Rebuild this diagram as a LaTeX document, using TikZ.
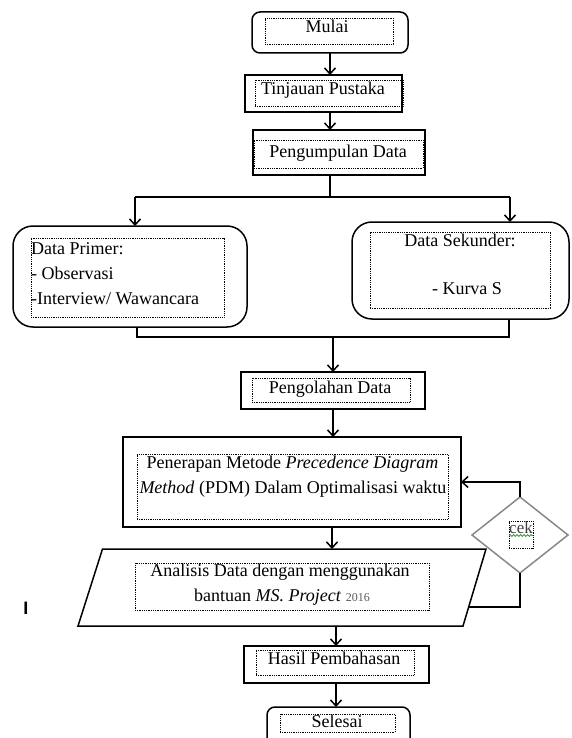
\documentclass[tikz,border=0pt]{standalone}
\usepackage{fontspec}
\setmainfont{Liberation Serif}
\newfontfamily\barfont{Liberation Sans}
\usetikzlibrary{arrows.meta,shapes.geometric,decorations.pathmorphing}
\definecolor{diagray}{HTML}{888888}
\definecolor{spellgreen}{HTML}{3A9A3A}
\begin{document}
\begin{tikzpicture}[x=1pt,y=-1pt,
  box/.style={draw, line width=1.5pt, inner sep=0pt, outer sep=0pt},
  rbox/.style={box, rounded corners=#1},
  dotbox/.style={draw, line width=0.9pt, dash pattern=on 0.9pt off 0.9pt, inner sep=0pt, outer sep=0pt},
  txt/.style={font=\fontsize{18}{25}\selectfont, inner sep=0pt, anchor=base},
  ltxt/.style={txt, anchor=base west},
  arr/.style={-{Straight Barb[length=6pt,width=11pt]}, line width=1.5pt},
  link/.style={line width=1.5pt}
]
\useasboundingbox (0,0) rectangle (571,738);
\clip (0,0) rectangle (571,738);

% Mulai
\node[rbox=8pt, minimum width=156pt, minimum height=41pt] (mulai) at (330,32.5) {};
\node[dotbox, minimum width=128pt, minimum height=26pt] (mulaiD) at (329,31) {};
\node[txt] (mulaiT) at (327,33) {Mulai};

% Tinjauan Pustaka
\node[box, minimum width=157pt, minimum height=37pt] (tin) at (323.5,93.5) {};
\node[dotbox, minimum width=148pt, minimum height=26pt] (tinD) at (329,93) {};
\node[txt] (tinT) at (323,95) {Tinjauan Pustaka};

% Pengumpulan Data
\node[box, minimum width=172pt, minimum height=45pt] (pk) at (339,152.5) {};
\node[dotbox, minimum width=169pt, minimum height=28pt] (pkD) at (338.5,154) {};
\node[txt] (pkT) at (338,158) {Pengumpulan Data};

% Data Primer
\node[rbox=20pt, minimum width=234pt, minimum height=101pt] (dp) at (130,276.5) {};
\node[dotbox, minimum width=193pt, minimum height=79pt] (dpD) at (127.5,277.5) {};
\node[ltxt] (dpT1) at (31,254) {Data Primer:};
\node[ltxt] (dpT2) at (31,279) {- Observasi};
\node[ltxt] (dpT3) at (31,304) {-Interview/ Wawancara};

% Data Sekunder
\node[rbox=20pt, minimum width=217pt, minimum height=97pt] (ds) at (460.5,270.5) {};
\node[dotbox, minimum width=180pt, minimum height=76pt] (dsD) at (460,270) {};
\node[txt] (dsT1) at (460,246) {Data Sekunder:};
\node[txt] (dsT2) at (467,294) {- Kurva S};

% Pengolahan Data
\node[box, minimum width=184pt, minimum height=37pt] (olah) at (333,390.5) {};
\node[dotbox, minimum width=158pt, minimum height=24pt] (olahD) at (331,390) {};
\node[txt] (olahT) at (330,393) {Pengolahan Data};

% Penerapan
\node[box, minimum width=338pt, minimum height=90pt] (pen) at (292,482) {};
\node[dotbox, minimum width=311pt, minimum height=65pt] (penD) at (292.5,486.5) {};
\node[txt] (penT1) at (292.5,468) {Penerapan Metode \textit{Precedence Diagram}};
\node[txt] (penT2) at (293,493) {\textit{Method} (PDM) Dalam Optimalisasi waktu};

% Analisis (parallelogram)
\coordinate (pTL) at (102.5,549);
\coordinate (pTR) at (486,549);
\coordinate (pBR) at (463,626);
\coordinate (pBL) at (78,626);
\coordinate (pIn) at (332,549);
\coordinate (pOut) at (336,626);
\coordinate (pR) at (468.7,607);
\draw[link] (pTL) -- (pTR) -- (pBR) -- (pBL) -- cycle;
\node[dotbox, minimum width=294pt, minimum height=47pt] (anD) at (282,586.5) {};
\node[txt] (anT1) at (280,576) {Analisis Data dengan menggunakan};
\node[txt] (anT2) at (282,601) {bantuan \textit{MS. Project} {\fontsize{12}{14}\selectfont\color{black!65}2016}};

% Hasil Pembahasan
\node[box, minimum width=185pt, minimum height=37pt] (hasil) at (336.5,664.5) {};
\node[dotbox, minimum width=158pt, minimum height=25pt] (hasilD) at (335,662.5) {};
\node[txt] (hasilT) at (334,664) {Hasil Pembahasan};

% Selesai
\node[rbox=8pt, minimum width=143pt, minimum height=50pt] (sel) at (338.5,732) {};
\node[dotbox, minimum width=115pt, minimum height=18pt] (selD) at (337.5,723) {};
\node[txt] (selT) at (337,727) {Selesai};

% cek diamond
\node[diamond, draw=diagray, line width=1.5pt, inner sep=0pt, outer sep=0pt, minimum width=96pt, minimum height=76pt] (dia) at (520,535) {};
\node[dotbox, minimum width=24pt, minimum height=27pt] (diaD) at (521,534.5) {};
\node[txt, font=\fontsize{17}{20}\selectfont, text=black!75] (diaT) at (521,533) {cek};
\coordinate (sqA) at (509,535.5);
\coordinate (sqB) at (533,535.5);
\draw[spellgreen, line width=0.9pt, decorate, decoration={snake, amplitude=0.9pt, segment length=3.5pt}] (sqA) -- (sqB);

% stray mark
\node[font=\barfont\bfseries\fontsize{18}{20}\selectfont, inner sep=0pt, anchor=base] (mark) at (26,614) {I};

% connectors
\coordinate (sl) at (135,197);
\coordinate (sr) at (510,197);
\coordinate (ml) at (137,337);
\coordinate (mr) at (509,337);
\draw[arr] (mulai.south) -- (mulai.south |- tin.north);
\draw[arr] (mulai.south |- tin.south) -- (mulai.south |- pk.north);
\draw[link] (mulai.south |- pk.south) -- (mulai.south |- sl);
\draw[link] (sl) -- (sr);
\draw[arr] (sl) -- (sl |- dp.north);
\draw[arr] (sr) -- (sr |- ds.north);
\draw[link] (ml |- dp.south) -- (ml) -- (mr) -- (mr |- ds.south);
\draw[arr] (olah.north |- ml) -- (olah.north);
\draw[arr] (olah.south) -- (olah.south |- pen.north);
\draw[arr] (pen.south -| pIn) -- (pIn);
\draw[arr] (pOut) -- (pOut |- hasil.north);
\draw[arr] (hasil.south -| pOut) -- (pOut |- sel.north);
\draw[arr] (dia.north) |- (pen.east);
\draw[link] (dia.south) |- (pR);
\end{tikzpicture}
\end{document}
